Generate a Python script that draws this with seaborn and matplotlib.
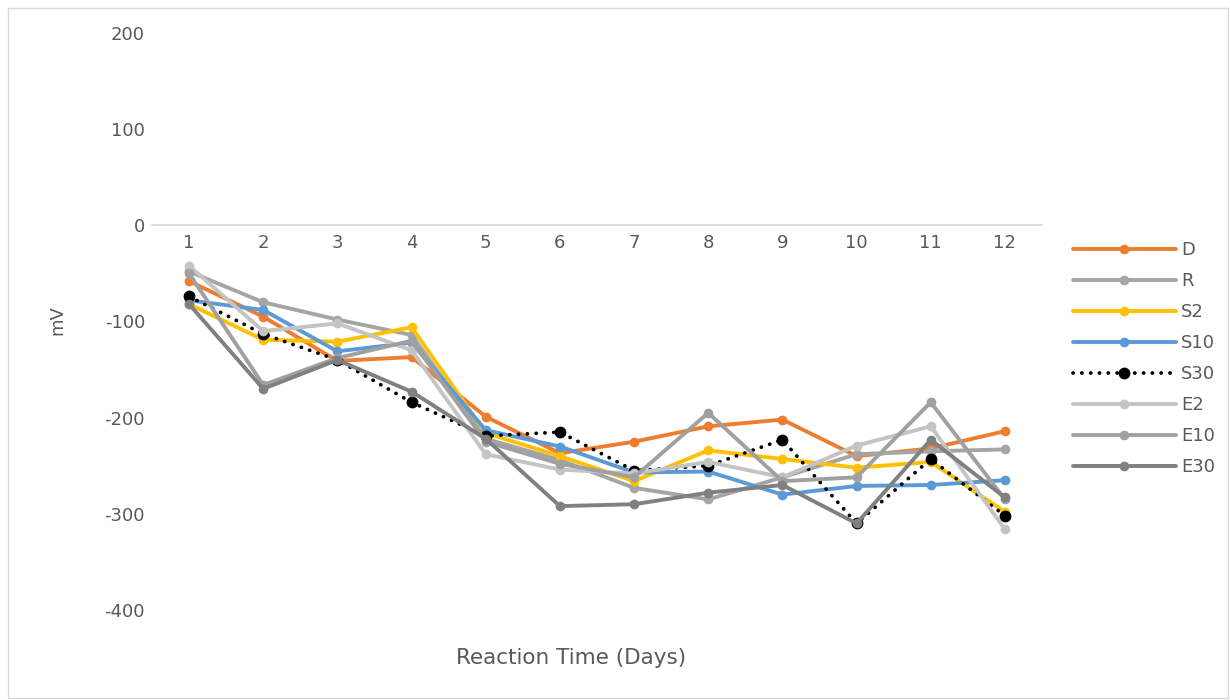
import matplotlib
matplotlib.use("Agg")
import matplotlib.pyplot as plt
import seaborn as sns
import pandas as pd
from matplotlib.patches import Rectangle

days = [1, 2, 3, 4, 5, 6, 7, 8, 9, 10, 11, 12]
series_names = ["D", "R", "S2", "S10", "S30", "E2", "E10", "E30"]
D = [-58, -95, -141, -137, -199, -237, -225, -209, -202, -240, -232, -214]
R = [-48, -80, -98, -114, -222, -244, -273, -285, -262, -238, -235, -233]
S2 = [-82, -119, -121, -106, -216, -240, -266, -234, -243, -252, -246, -298]
S10 = [-78, -88, -131, -122, -213, -230, -257, -256, -280, -271, -270, -265]
S30 = [-74, -113, -140, -184, -219, -215, -255, -250, -223, -310, -243, -302]
E2 = [-42, -110, -102, -130, -238, -254, -258, -246, -262, -229, -209, -316]
E10 = [-50, -166, -138, -120, -225, -248, -262, -195, -266, -262, -184, -285]
E30 = [-82, -170, -140, -173, -222, -292, -290, -278, -270, -310, -223, -283]
values = [D, R, S2, S10, S30, E2, E10, E30]
colors = ["#ED7D31", "#A5A5A5", "#FFC000", "#5B9BD5", "#000000", "#C4C4C4", "#A0A0A0", "#808080"]
y_ticks = [-400, -300, -200, -100, 0, 100, 200]

df = pd.concat([pd.DataFrame({"day": days, "mV": v, "series": n}) for n, v in zip(series_names, values)],
               ignore_index=True)

sns.set_theme(style="white")
plt.rcParams["font.family"] = ["DejaVu Sans"]

fig = plt.figure(figsize=(12.3, 7.0), dpi=100)
ax = fig.add_axes([152 / 1230, 90 / 700, 890 / 1230, 577 / 700])

for name, col in zip(series_names, colors):
    sub = df[df["series"] == name]
    if name == "S30":
        sns.lineplot(data=sub, x="day", y="mV", ax=ax, color=col, lw=2.7, marker="o",
                     markersize=8.5, markeredgewidth=0, label=name)
        ln = ax.lines[-1]
        ln.set_dashes((0.05, 2.3))
        ln.set_dash_capstyle("round")
    else:
        sns.lineplot(data=sub, x="day", y="mV", ax=ax, color=col, lw=2.8, marker="o",
                     markersize=7, markeredgewidth=0, label=name)
        ax.lines[-1].set_solid_capstyle("round")
        ax.lines[-1].set_solid_joinstyle("round")

ax.set_xlim(0.5, 12.5)
ax.set_ylim(-400, 200)
ax.set_xticks(days)
ax.set_xticklabels([str(d) for d in days])
ax.set_yticks(y_ticks)
ax.set_yticklabels([str(t) for t in y_ticks])
for s in ["left", "right", "top"]:
    ax.spines[s].set_visible(False)
ax.spines["bottom"].set_position(("data", 0))
ax.spines["bottom"].set_color("#D9D9D9")
ax.spines["bottom"].set_linewidth(1.2)
ax.spines["bottom"].set_zorder(0)
ax.tick_params(axis="x", length=0, pad=6, labelsize=13, labelcolor="#595959")
ax.tick_params(axis="y", length=0, pad=5, labelsize=13, labelcolor="#595959")
ax.grid(False)
ax.set_xlabel("")
ax.set_ylabel("")
ax.patch.set_alpha(0)

fig.text(57 / 1230, 1 - 320 / 700, "mV", rotation=90, ha="center", va="center",
         fontsize=13, color="#595959")
fig.text(571 / 1230, 1 - 658 / 700, "Reaction Time (Days)", ha="center", va="center",
         fontsize=15.5, color="#595959")

ax.get_legend().remove()
handles, labels = ax.get_legend_handles_labels()
leg = fig.legend(handles, labels, loc="upper left", bbox_to_anchor=(1073 / 1230, 1 - 241 / 700),
                 frameon=False, fontsize=13, handlelength=5.7, handletextpad=0.3,
                 labelspacing=0.72, borderpad=0, borderaxespad=0, numpoints=1)
for t in leg.get_texts():
    t.set_color("#595959")

fig.patches.append(Rectangle((8 / 1230, 2 / 700), 1220 / 1230, 690 / 700, transform=fig.transFigure,
                             fill=False, edgecolor="#D9D9D9", lw=1))

fig.savefig("out.png", dpi=100)
